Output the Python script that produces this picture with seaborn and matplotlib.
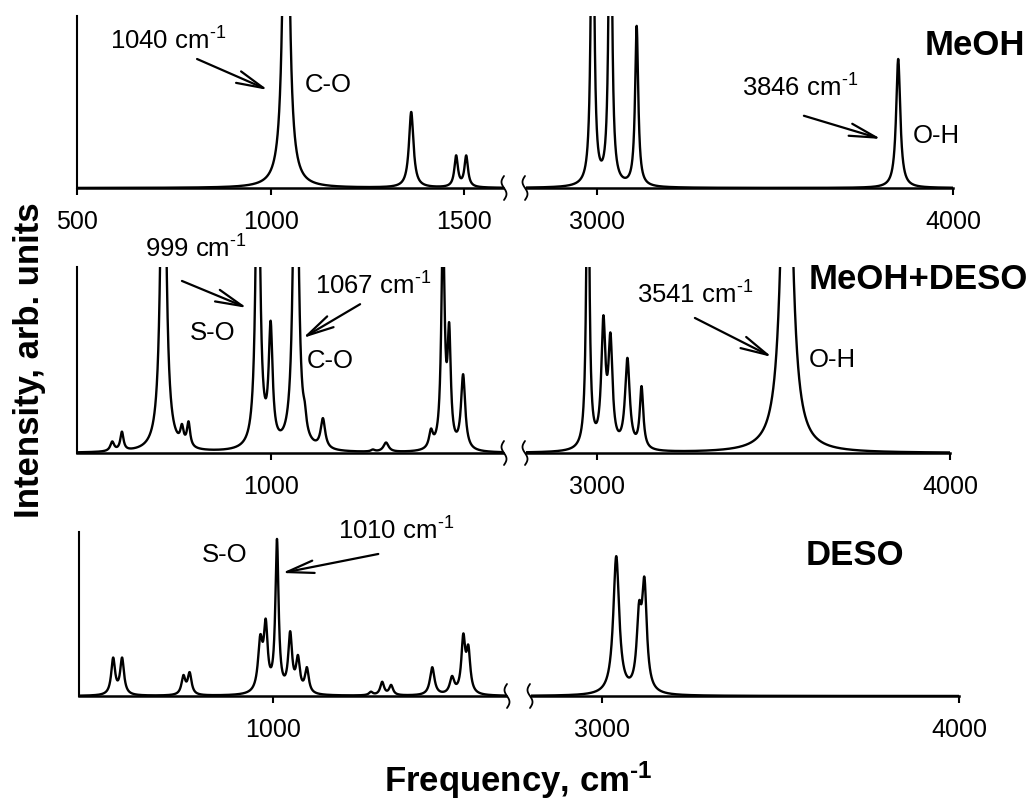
import numpy as np
import pandas as pd
import matplotlib
matplotlib.use("Agg")
import matplotlib.pyplot as plt
import seaborn as sns

# ---------------- data (peak position cm^-1, relative amplitude, half width) -------------
meoh_low_pos = [1040, 1363, 1479, 1505]
meoh_low_amp = [3.0, 0.44, 0.18, 0.18]
meoh_low_hw = [7.5, 7, 5.5, 5.5]

meoh_high_pos = [2987, 3037, 3111, 3846]
meoh_high_amp = [2.5, 2.5, 0.93, 0.75]
meoh_high_hw = [4.5, 4.5, 5.3, 7]

mix_low_pos = [591, 616, 723, 771, 788, 967, 1000, 1065, 1088, 1135, 1264, 1298, 1414, 1445, 1461, 1497]
mix_low_amp = [0.05, 0.10, 2.5, 0.09, 0.13, 2.0, 0.62, 2.5, 0.08, 0.16, 0.01, 0.05, 0.09, 1.2, 0.58, 0.40]
mix_low_hw = [6, 5, 7, 5, 5, 6, 6, 6.5, 5, 7, 6, 8, 6, 5, 5, 6.5]

mix_high_pos = [2975, 3019, 3039, 3087, 3127, 3538]
mix_high_amp = [2.0, 0.65, 0.55, 0.48, 0.33, 2.6]
mix_high_hw = [4.5, 7, 7, 8, 6, 15]

deso_low_pos = [588, 611, 769, 785, 967, 981, 1010, 1044, 1064, 1087, 1252, 1281, 1304, 1410, 1461, 1490, 1503]
deso_low_amp = [0.22, 0.22, 0.11, 0.13, 0.30, 0.38, 0.92, 0.35, 0.20, 0.15, 0.02, 0.08, 0.06, 0.17, 0.10, 0.33, 0.25]
deso_low_hw = [6, 6, 6, 6, 7, 6, 5, 6, 6, 6, 6, 6, 6, 7, 7, 6, 6]

deso_high_pos = [3039, 3103, 3118]
deso_high_amp = [0.84, 0.42, 0.62]
deso_high_hw = [10, 8, 8]

row_names = ["MeOH", "MeOH+DESO", "DESO"]
low_ticks = [[500, 1000, 1500], [1000], [1000]]
high_ticks = [3000, 4000]
low_range = (500, 1600)
high_range = (2800, 4000)

# ---------------- style ----------------
sns.set_style("white")
plt.rcParams["font.family"] = ["Liberation Sans", "DejaVu Sans"]
plt.rcParams["mathtext.fontset"] = "custom"
plt.rcParams["mathtext.rm"] = "Liberation Sans"
plt.rcParams["mathtext.it"] = "Liberation Sans:italic"
plt.rcParams["mathtext.bf"] = "Liberation Sans:bold"
plt.rcParams["text.color"] = "black"
plt.rcParams["axes.labelcolor"] = "black"
plt.rcParams["xtick.color"] = "black"
plt.rcParams["xtick.labelcolor"] = "black"

W, H = 1032, 803
fig = plt.figure(figsize=(W / 100, H / 100), dpi=100)

# axes boxes in image pixels: top, baseline, left x0, left x1, right x0, right x1
rows = [
    (17, 189, 77, 503, 526, 953),
    (268, 454, 77, 503, 526, 950),
    (533, 697, 79, 506, 531, 959),
]


def box(x0, x1, top, base):
    return [x0 / W, 1 - base / H, (x1 - x0) / W, (base - top) / H]


def spectrum(x, pos, amp, hw):
    y = np.zeros_like(x)
    for p, a, w in zip(pos, amp, hw):
        y += a / (1 + ((x - p) / w) ** 2)
    return y


data = [
    ((meoh_low_pos, meoh_low_amp, meoh_low_hw), (meoh_high_pos, meoh_high_amp, meoh_high_hw)),
    ((mix_low_pos, mix_low_amp, mix_low_hw), (mix_high_pos, mix_high_amp, mix_high_hw)),
    ((deso_low_pos, deso_low_amp, deso_low_hw), (deso_high_pos, deso_high_amp, deso_high_hw)),
]

xl = np.linspace(low_range[0], low_range[1], 4401)
xh = np.linspace(high_range[0], high_range[1], 4801)

axes = []
for i, (top, base, lx0, lx1, rx0, rx1) in enumerate(rows):
    axl = fig.add_axes(box(lx0, lx1, top, base))
    axr = fig.add_axes(box(rx0, rx1, top, base))
    (pl, al, wl), (ph, ah, wh) = data[i]
    dfl = pd.DataFrame({"x": xl, "y": spectrum(xl, pl, al, wl)})
    dfh = pd.DataFrame({"x": xh, "y": spectrum(xh, ph, ah, wh)})
    sns.lineplot(data=dfl, x="x", y="y", ax=axl, color="black", lw=1.7, estimator=None, sort=False)
    sns.lineplot(data=dfh, x="x", y="y", ax=axr, color="black", lw=1.7, estimator=None, sort=False)
    for ax, rng, ticks in ((axl, low_range, low_ticks[i]), (axr, high_range, high_ticks)):
        ax.set_xlim(*rng)
        ax.set_ylim(0, 1)
        ax.set_xticks(ticks)
        ax.set_yticks([])
        ax.set_xlabel("")
        ax.set_ylabel("")
        ax.tick_params(axis="x", direction="out", length=5, width=1.5, pad=10,
                       labelsize=18, colors="black", bottom=True)
        for s in ("top", "right"):
            ax.spines[s].set_visible(False)
        ax.spines["bottom"].set_linewidth(1.8)
        ax.spines["bottom"].set_color("black")
        ax.patch.set_alpha(0)
    axl.spines["left"].set_linewidth(1.5)
    axl.spines["left"].set_color("black")
    axr.spines["left"].set_visible(False)
    axes.append((axl, axr))

    # axis-break marks
    t = np.linspace(-1, 1, 40)
    for xc in (lx1 + 1, rx0 - 1):
        xs = xc - 2.5 * np.sin(np.pi * t)
        ys = base - 12 * t
        fig.add_artist(plt.Line2D(xs / W, 1 - ys / H, transform=fig.transFigure,
                                  color="black", lw=1.3))

# ---------------- annotations ----------------
afs = 18.5
HY = "\u2010"
SUP = "cm$^{" + HY + "1}$"
arrow = dict(arrowstyle="->,head_length=1.3,head_width=0.3", lw=1.6, color="black",
             mutation_scale=15, shrinkA=0, shrinkB=0)

(a1l, a1r), (a2l, a2r), (a3l, a3r) = axes

a1l.text(585, 0.808, "1040 " + SUP, fontsize=afs, va="baseline", clip_on=False)
a1l.annotate("", xy=(993, 0.57), xytext=(810, 0.75), arrowprops=arrow, annotation_clip=False)
a1l.text(1089, 0.564, "C-O", fontsize=afs, va="baseline")
a1r.text(3407, 0.535, "3846 " + SUP, fontsize=afs, va="baseline")
a1r.annotate("", xy=(3798, 0.285), xytext=(3581, 0.42), arrowprops=arrow)
a1r.text(3888, 0.27, "O-H", fontsize=afs, va="baseline")

a2l.text(675, 1.054, "999 " + SUP, fontsize=afs, va="baseline", clip_on=False)
a2l.annotate("", xy=(939, 0.78), xytext=(771, 0.925), arrowprops=arrow)
a2l.text(792, 0.613, "S-O", fontsize=afs, va="baseline")
a2l.text(1115, 0.855, "1067 " + SUP, fontsize=afs, va="baseline")
a2l.annotate("", xy=(1083, 0.618), xytext=(1231, 0.80), arrowprops=arrow)
a2l.text(1094, 0.462, "C-O", fontsize=afs, va="baseline")
a2r.text(3114, 0.81, "3541 " + SUP, fontsize=afs, va="baseline")
a2r.annotate("", xy=(3496, 0.516), xytext=(3278, 0.726), arrowprops=arrow)
a2r.text(3601, 0.468, "O-H", fontsize=afs, va="baseline")

a3l.text(817, 0.823, "S-O", fontsize=afs, va="baseline")
a3l.text(1167, 0.957, "1010 " + SUP, fontsize=afs, va="baseline", clip_on=False)
a3l.annotate("", xy=(1023, 0.75), xytext=(1271, 0.866), arrowprops=arrow)

# row labels
fig.text(1025 / W, 1 - 55 / H, row_names[0], fontsize=25, fontweight="bold", ha="right", va="baseline")
fig.text(1028 / W, 1 - 289 / H, row_names[1], fontsize=25, fontweight="bold", ha="right", va="baseline")
fig.text(904 / W, 1 - 565 / H, row_names[2], fontsize=25, fontweight="bold", ha="right", va="baseline")

# axis labels
fig.text(30 / W, 1 - 360 / H, "Intensity, arb. units", fontsize=25, fontweight="bold",
         rotation=90, ha="center", va="center")
fig.text(518 / W, 1 - 792 / H, "Frequency, cm$^{\\mathbf{" + HY + "1}}$", fontsize=25,
         fontweight="bold", ha="center", va="baseline")

fig.savefig("out.png", dpi=100)
